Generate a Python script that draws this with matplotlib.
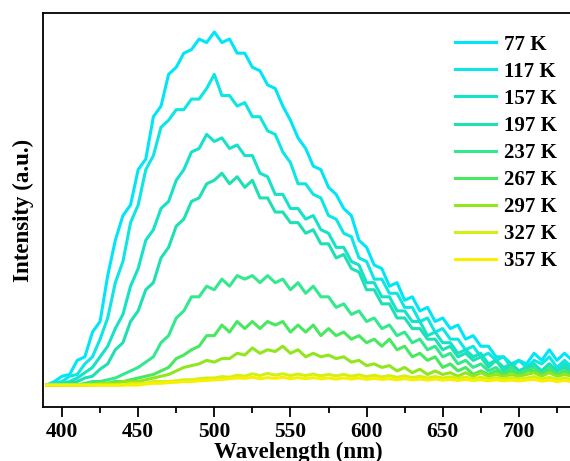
import numpy as np
import matplotlib
matplotlib.use("Agg")
import matplotlib.pyplot as plt
from matplotlib.ticker import MultipleLocator, NullLocator

# Wavelength grid (nm) and emission intensities for each temperature
wavelength = np.arange(390, 736, 5)

temps = ["77 K", "117 K", "157 K", "197 K", "237 K", "267 K", "297 K", "327 K", "357 K"]

i_77 = [0.0, 0.01, 0.025, 0.03, 0.07, 0.08, 0.15, 0.18, 0.31, 0.41, 0.48, 0.51, 0.61, 0.64,
        0.76, 0.79, 0.88, 0.90, 0.94, 0.95, 0.98, 0.97, 1.0, 0.97, 0.98, 0.94, 0.94, 0.90,
        0.89, 0.85, 0.84, 0.79, 0.75, 0.70, 0.67, 0.62, 0.61, 0.56, 0.54, 0.50, 0.48, 0.41,
        0.39, 0.34, 0.33, 0.28, 0.29, 0.24, 0.25, 0.21, 0.22, 0.18, 0.19, 0.16, 0.17, 0.13,
        0.14, 0.11, 0.11, 0.08, 0.08, 0.06, 0.07, 0.06, 0.09, 0.07, 0.10, 0.07, 0.09, 0.07]
i_117 = [0.0, 0.005, 0.01, 0.025, 0.03, 0.06, 0.08, 0.13, 0.19, 0.29, 0.35, 0.46, 0.51, 0.61,
         0.65, 0.73, 0.75, 0.78, 0.78, 0.81, 0.81, 0.84, 0.88, 0.82, 0.82, 0.79, 0.80, 0.76,
         0.76, 0.72, 0.71, 0.66, 0.63, 0.57, 0.57, 0.54, 0.53, 0.48, 0.47, 0.43, 0.42, 0.36,
         0.35, 0.30, 0.30, 0.26, 0.26, 0.22, 0.22, 0.18, 0.19, 0.15, 0.16, 0.13, 0.13, 0.10,
         0.11, 0.08, 0.09, 0.07, 0.08, 0.05, 0.07, 0.05, 0.07, 0.06, 0.08, 0.05, 0.07, 0.05]
i_157 = [0.0, 0.0, 0.005, 0.01, 0.02, 0.035, 0.05, 0.08, 0.11, 0.16, 0.20, 0.28, 0.33, 0.41,
         0.44, 0.50, 0.52, 0.58, 0.61, 0.66, 0.67, 0.71, 0.69, 0.70, 0.67, 0.68, 0.65, 0.65,
         0.60, 0.59, 0.54, 0.54, 0.50, 0.50, 0.47, 0.48, 0.44, 0.43, 0.39, 0.39, 0.35, 0.34,
         0.29, 0.29, 0.25, 0.25, 0.21, 0.21, 0.18, 0.18, 0.14, 0.15, 0.12, 0.12, 0.09, 0.10,
         0.08, 0.09, 0.06, 0.07, 0.05, 0.06, 0.04, 0.05, 0.06, 0.04, 0.06, 0.04, 0.06, 0.04]
i_197 = [0.0, 0.0, 0.0, 0.005, 0.01, 0.02, 0.025, 0.045, 0.06, 0.10, 0.12, 0.18, 0.21, 0.27,
         0.29, 0.36, 0.39, 0.45, 0.47, 0.52, 0.53, 0.57, 0.58, 0.60, 0.57, 0.59, 0.56, 0.58,
         0.53, 0.53, 0.49, 0.49, 0.46, 0.46, 0.43, 0.44, 0.40, 0.40, 0.36, 0.37, 0.33, 0.32,
         0.27, 0.27, 0.23, 0.23, 0.19, 0.19, 0.16, 0.16, 0.13, 0.13, 0.10, 0.11, 0.08, 0.09,
         0.07, 0.08, 0.05, 0.07, 0.04, 0.06, 0.04, 0.05, 0.05, 0.04, 0.06, 0.04, 0.05, 0.03]
i_237 = [0.0, 0.0, 0.0, 0.0, 0.0, 0.005, 0.01, 0.01, 0.015, 0.02, 0.03, 0.04, 0.05, 0.065,
         0.08, 0.12, 0.14, 0.19, 0.21, 0.25, 0.25, 0.28, 0.27, 0.30, 0.28, 0.31, 0.30, 0.31,
         0.29, 0.31, 0.29, 0.30, 0.27, 0.29, 0.26, 0.28, 0.25, 0.25, 0.22, 0.23, 0.20, 0.21,
         0.18, 0.19, 0.16, 0.17, 0.14, 0.15, 0.12, 0.13, 0.10, 0.11, 0.08, 0.09, 0.06, 0.07,
         0.05, 0.06, 0.04, 0.05, 0.03, 0.05, 0.03, 0.04, 0.05, 0.03, 0.05, 0.03, 0.04, 0.03]
i_267 = [0.0, 0.0, 0.0, 0.0, 0.0, 0.0, 0.005, 0.005, 0.005, 0.01, 0.01, 0.015, 0.02, 0.025,
         0.03, 0.04, 0.05, 0.075, 0.085, 0.10, 0.11, 0.14, 0.14, 0.17, 0.15, 0.18, 0.16, 0.18,
         0.16, 0.18, 0.17, 0.18, 0.15, 0.17, 0.15, 0.17, 0.14, 0.16, 0.14, 0.15, 0.13, 0.14,
         0.12, 0.13, 0.11, 0.13, 0.10, 0.11, 0.08, 0.09, 0.07, 0.08, 0.05, 0.06, 0.04, 0.05,
         0.03, 0.04, 0.03, 0.04, 0.03, 0.04, 0.03, 0.04, 0.04, 0.03, 0.04, 0.03, 0.04, 0.03]
i_297 = [0.0, 0.0, 0.0, 0.0, 0.0, 0.0, 0.0, 0.005, 0.005, 0.005, 0.01, 0.01, 0.01, 0.015,
         0.02, 0.025, 0.03, 0.04, 0.05, 0.055, 0.06, 0.07, 0.065, 0.075, 0.075, 0.09, 0.085, 0.105,
         0.09, 0.10, 0.095, 0.11, 0.09, 0.10, 0.08, 0.09, 0.08, 0.085, 0.075, 0.08, 0.065, 0.07,
         0.055, 0.06, 0.05, 0.055, 0.04, 0.05, 0.035, 0.045, 0.03, 0.04, 0.03, 0.035, 0.025, 0.035,
         0.025, 0.035, 0.025, 0.03, 0.025, 0.03, 0.025, 0.03, 0.035, 0.025, 0.035, 0.025, 0.03, 0.025]
i_327 = [0.0, 0.0, 0.0, 0.0, 0.0, 0.0, 0.0, 0.0, 0.0, 0.0, 0.0, 0.005, 0.005, 0.005,
         0.01, 0.01, 0.01, 0.012, 0.015, 0.015, 0.018, 0.02, 0.02, 0.024, 0.022, 0.028, 0.025, 0.032,
         0.027, 0.033, 0.028, 0.032, 0.027, 0.031, 0.027, 0.031, 0.026, 0.03, 0.026, 0.03, 0.025, 0.029,
         0.024, 0.028, 0.023, 0.027, 0.022, 0.026, 0.021, 0.025, 0.02, 0.024, 0.02, 0.023, 0.019, 0.022,
         0.018, 0.022, 0.018, 0.021, 0.017, 0.021, 0.017, 0.02, 0.024, 0.017, 0.022, 0.016, 0.02, 0.015]
i_357 = [0.0, 0.0, 0.0, 0.0, 0.0, 0.0, 0.0, 0.0, 0.0, 0.0, 0.0, 0.0, 0.0, 0.003,
         0.005, 0.005, 0.007, 0.008, 0.01, 0.01, 0.012, 0.013, 0.015, 0.016, 0.018, 0.02, 0.019, 0.022,
         0.018, 0.021, 0.019, 0.022, 0.018, 0.021, 0.018, 0.021, 0.018, 0.02, 0.017, 0.02, 0.017, 0.02,
         0.016, 0.019, 0.016, 0.018, 0.015, 0.018, 0.015, 0.017, 0.014, 0.017, 0.014, 0.016, 0.013, 0.016,
         0.013, 0.015, 0.012, 0.015, 0.012, 0.014, 0.012, 0.014, 0.016, 0.011, 0.014, 0.01, 0.013, 0.01]

spectra = [i_77, i_117, i_157, i_197, i_237, i_267, i_297, i_327, i_357]

colors = ["#00e6f8", "#0de6e2", "#16e2ca", "#1ee0b4", "#34e88e", "#48e860",
          "#92e61e", "#d2f014", "#f8f000"]

plt.rcParams["font.family"] = ["Liberation Serif", "DejaVu Serif"]
plt.rcParams["font.weight"] = "bold"

fig = plt.figure(figsize=(5.70, 4.61), dpi=100)
ax = fig.add_axes([0.0754, 0.117, 0.9316, 0.855])

for name, vals, c in zip(temps, spectra, colors):
    ax.plot(wavelength, vals, color=c, lw=2.2, label=name)

ax.set_xlim(387.5, 736.2)
ax.set_ylim(-0.0623, 1.054)

ax.xaxis.set_major_locator(MultipleLocator(50))
ax.xaxis.set_minor_locator(MultipleLocator(25))
ax.yaxis.set_major_locator(NullLocator())
ax.tick_params(axis="x", which="major", direction="out", length=7, width=1.3,
               labelsize=15.5, pad=4)
ax.tick_params(axis="x", which="minor", direction="out", length=4, width=1.3)
for lab in ax.get_xticklabels():
    lab.set_fontweight("bold")

for side in ["left", "bottom", "top"]:
    ax.spines[side].set_linewidth(1.3)
ax.spines["right"].set_visible(False)

ax.set_xlabel("Wavelength (nm)", fontsize=16.5, fontweight="bold")
ax.xaxis.set_label_coords(0.48, -0.087)
ax.set_ylabel("Intensity (a.u.)", fontsize=16.5, fontweight="bold")
ax.yaxis.set_label_coords(-0.016, 0.50)

leg = ax.legend(loc="upper left", bbox_to_anchor=(0.776, 0.945), frameon=False,
                prop={"size": 15, "weight": "bold"}, handlelength=1.95,
                handletextpad=0.4, labelspacing=0.34, borderaxespad=0, borderpad=0)

fig.savefig("out.png", dpi=100)
